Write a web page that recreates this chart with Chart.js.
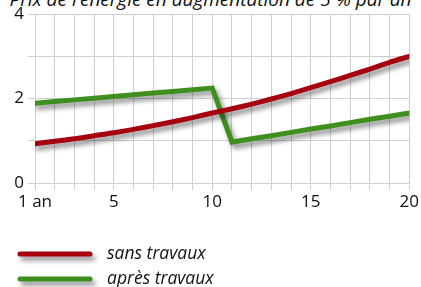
<!DOCTYPE html>
<html><head><meta charset="utf-8">
<style>
html,body{margin:0;padding:0;background:#fff;overflow:hidden;width:421px;height:287px;}
#wrap{position:relative;width:421px;height:287px;overflow:hidden;}
#title{position:absolute;left:0;top:-10px;width:421px;text-align:center;font:italic 19px/19px "Open Sans",sans-serif;color:#111;white-space:nowrap;}
canvas{position:absolute;left:0;top:0;}
</style>
<script src="https://cdn.jsdelivr.net/npm/chart.js@4"></script>
</head><body>
<div id="wrap">
<div id="title">Prix de l’énergie en augmentation de 5 % par an</div>
<canvas id="c" width="421" height="287"></canvas>
</div>
<script>
const years = [1,2,3,4,5,6,7,8,9,10,11,12,13,14,15,16,17,18,19,20];
const sansTravaux = [0.93,0.99,1.05,1.12,1.19,1.27,1.36,1.45,1.55,1.66,1.76,1.87,1.99,2.12,2.26,2.40,2.55,2.70,2.86,3.00];
const apresTravaux = [1.89,1.93,1.97,2.01,2.05,2.09,2.13,2.17,2.21,2.25,0.97,1.05,1.12,1.20,1.28,1.35,1.43,1.51,1.58,1.66];
const seriesNames = ['sans travaux','après travaux'];
const xTickLabels = {1:'1 an',5:'5',10:'10',15:'15',20:'20'};
const yTickLabels = {0:'0',2:'2',4:'4'};
const colors = ['#a6000f','#3f8f1f'];

const shadowPlugin = {
  id:'shadow',
  beforeDatasetDraw(chart){const ctx=chart.ctx;ctx.save();ctx.shadowColor='rgba(0,0,0,0.45)';ctx.shadowBlur=5;ctx.shadowOffsetX=3;ctx.shadowOffsetY=4;},
  afterDatasetDraw(chart){chart.ctx.restore();}
};
const legendPlugin = {
  id:'customLegend',
  afterDraw(chart){
    const ctx=chart.ctx;
    chart.data.datasets.forEach((ds,i)=>{
      const y=254+i*25;
      ctx.save();
      ctx.shadowColor='rgba(0,0,0,0.45)';ctx.shadowBlur=5;ctx.shadowOffsetX=3;ctx.shadowOffsetY=4;
      ctx.strokeStyle=ds.borderColor;ctx.lineWidth=5;ctx.lineCap='round';
      ctx.beginPath();ctx.moveTo(20,y);ctx.lineTo(90,y);ctx.stroke();
      ctx.restore();
      ctx.save();
      ctx.fillStyle='#111';ctx.font='italic 17.5px "Open Sans"';ctx.textBaseline='middle';
      ctx.fillText(ds.label,107,y);
      ctx.restore();
    });
  }
};

new Chart(document.getElementById('c'),{
  type:'line',
  data:{datasets:[
    {label:seriesNames[0],data:years.map((x,i)=>({x,y:sansTravaux[i]})),borderColor:colors[0],borderWidth:5,pointRadius:0,tension:0.3,borderCapStyle:'round',borderJoinStyle:'round'},
    {label:seriesNames[1],data:years.map((x,i)=>({x,y:apresTravaux[i]})),borderColor:colors[1],borderWidth:5,pointRadius:0,tension:0,borderCapStyle:'round',borderJoinStyle:'miter'}
  ]},
  options:{
    responsive:false,animation:false,
    layout:{padding:{top:14,right:11,left:0,bottom:0}},
    plugins:{legend:{display:false},tooltip:{enabled:false},title:{display:false}},
    scales:{
      x:{type:'linear',min:1,max:20,
        afterFit(s){s.height=104;},
        grid:{color:'#cfcfcf',lineWidth:1,tickLength:7,drawTicks:true},
        border:{color:'#cfcfcf'},
        ticks:{stepSize:1,autoSkip:false,maxRotation:0,padding:2,color:'#111',font:{family:'Open Sans',size:17},
          callback:(v)=>xTickLabels[v]!==undefined?xTickLabels[v]:''}
      },
      y:{type:'linear',min:0,max:4,
        afterFit(s){s.width=35;},
        grid:{color:'#cfcfcf',lineWidth:1,tickLength:7},
        border:{color:'#cfcfcf'},
        ticks:{stepSize:1,autoSkip:false,padding:4,color:'#111',font:{family:'Open Sans',size:17},
          callback:(v)=>yTickLabels[v]!==undefined?yTickLabels[v]:''}
      }
    }
  },
  plugins:[shadowPlugin,legendPlugin]
});
</script>
</body></html>
